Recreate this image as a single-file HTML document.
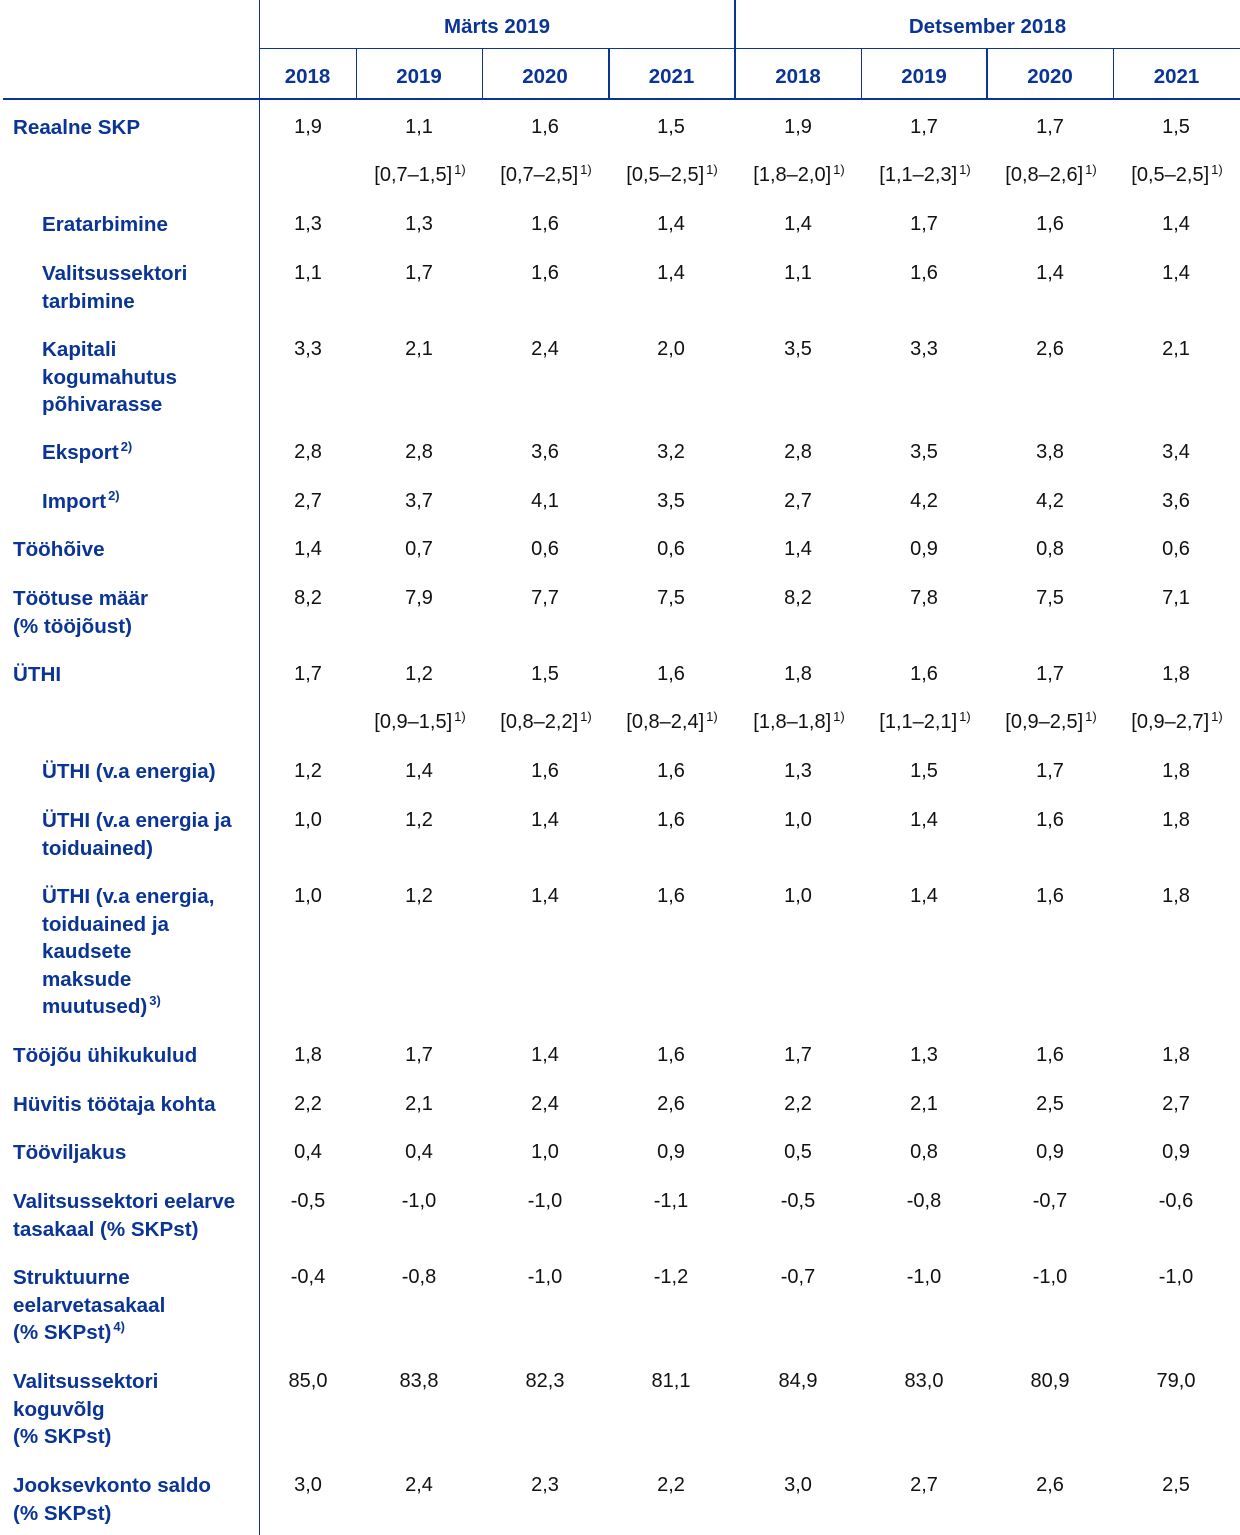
<!DOCTYPE html>
<html><head><meta charset="utf-8"><style>
body{margin:0;width:1240px;height:1535px;background:#fff;position:relative;overflow:hidden;font-family:"Liberation Sans",Arial,sans-serif;}
.l{position:absolute;background:#0a3596}
.r{position:absolute;left:0;width:1240px;height:28px;transform:translateY(2px)}
.r div{position:absolute;top:0;line-height:27.5px;font-size:20px;white-space:nowrap}
.r div.t{color:#0a3596;font-weight:bold;left:13px;font-size:20.6px}
.r div.t.i{left:42px}
.v{color:#111;text-align:center;width:126px}
.h{color:#0a3596;font-weight:bold;font-size:20.5px;position:absolute;text-align:center;line-height:28px;transform:translateY(2px)}
sup{font-size:13px;vertical-align:top;position:relative;top:-6px;left:2px;font-weight:normal}
.t sup{font-weight:bold}
.a{left:245px}.b{left:356px}.c{left:482px}.d{left:608px}.e{left:735px}.f{left:861px}.g{left:987px}.k{left:1113px}
</style></head><body>
<div class="l" style="left:259px;top:0;width:1px;height:1535px"></div>
<div class="l" style="left:734px;top:0;width:2px;height:100px"></div>
<div class="l" style="left:259px;top:48px;width:981px;height:1px"></div>
<div class="l" style="left:3px;top:98px;width:1237px;height:2px"></div>
<div class="l" style="left:356px;top:48px;width:1px;height:51px"></div>
<div class="l" style="left:482px;top:48px;width:1px;height:51px"></div>
<div class="l" style="left:608px;top:48px;width:2px;height:51px"></div>
<div class="l" style="left:861px;top:48px;width:1px;height:51px"></div>
<div class="l" style="left:986px;top:48px;width:2px;height:51px"></div>
<div class="l" style="left:1113px;top:48px;width:1px;height:51px"></div>
<div class="h" style="left:259px;width:476px;top:11px">Märts 2019</div>
<div class="h" style="left:735px;width:505px;top:11px">Detsember 2018</div>
<div class="h" style="left:259px;width:97px;top:61px">2018</div>
<div class="h" style="left:356px;width:126px;top:61px">2019</div>
<div class="h" style="left:482px;width:126px;top:61px">2020</div>
<div class="h" style="left:608px;width:127px;top:61px">2021</div>
<div class="h" style="left:735px;width:126px;top:61px">2018</div>
<div class="h" style="left:861px;width:126px;top:61px">2019</div>
<div class="h" style="left:987px;width:126px;top:61px">2020</div>
<div class="h" style="left:1113px;width:127px;top:61px">2021</div>

<div class="r" style="top:112px"><div class="t">Reaalne SKP</div><div class="v a">1,9</div><div class="v b">1,1</div><div class="v c">1,6</div><div class="v d">1,5</div><div class="v e">1,9</div><div class="v f">1,7</div><div class="v g">1,7</div><div class="v k">1,5</div></div>
<div class="r" style="top:160px"><div class="v b">[0,7–1,5]<sup>1)</sup></div><div class="v c">[0,7–2,5]<sup>1)</sup></div><div class="v d">[0,5–2,5]<sup>1)</sup></div><div class="v e">[1,8–2,0]<sup>1)</sup></div><div class="v f">[1,1–2,3]<sup>1)</sup></div><div class="v g">[0,8–2,6]<sup>1)</sup></div><div class="v k">[0,5–2,5]<sup>1)</sup></div></div>
<div class="r" style="top:209px"><div class="t i">Eratarbimine</div><div class="v a">1,3</div><div class="v b">1,3</div><div class="v c">1,6</div><div class="v d">1,4</div><div class="v e">1,4</div><div class="v f">1,7</div><div class="v g">1,6</div><div class="v k">1,4</div></div>
<div class="r" style="top:258px"><div class="t i">Valitsussektori<br>tarbimine</div><div class="v a">1,1</div><div class="v b">1,7</div><div class="v c">1,6</div><div class="v d">1,4</div><div class="v e">1,1</div><div class="v f">1,6</div><div class="v g">1,4</div><div class="v k">1,4</div></div>
<div class="r" style="top:334px"><div class="t i">Kapitali<br>kogumahutus<br>põhivarasse</div><div class="v a">3,3</div><div class="v b">2,1</div><div class="v c">2,4</div><div class="v d">2,0</div><div class="v e">3,5</div><div class="v f">3,3</div><div class="v g">2,6</div><div class="v k">2,1</div></div>
<div class="r" style="top:437px"><div class="t i">Eksport<sup>2)</sup></div><div class="v a">2,8</div><div class="v b">2,8</div><div class="v c">3,6</div><div class="v d">3,2</div><div class="v e">2,8</div><div class="v f">3,5</div><div class="v g">3,8</div><div class="v k">3,4</div></div>
<div class="r" style="top:486px"><div class="t i">Import<sup>2)</sup></div><div class="v a">2,7</div><div class="v b">3,7</div><div class="v c">4,1</div><div class="v d">3,5</div><div class="v e">2,7</div><div class="v f">4,2</div><div class="v g">4,2</div><div class="v k">3,6</div></div>
<div class="r" style="top:534px"><div class="t">Tööhõive</div><div class="v a">1,4</div><div class="v b">0,7</div><div class="v c">0,6</div><div class="v d">0,6</div><div class="v e">1,4</div><div class="v f">0,9</div><div class="v g">0,8</div><div class="v k">0,6</div></div>
<div class="r" style="top:583px"><div class="t">Töötuse määr<br>(% tööjõust)</div><div class="v a">8,2</div><div class="v b">7,9</div><div class="v c">7,7</div><div class="v d">7,5</div><div class="v e">8,2</div><div class="v f">7,8</div><div class="v g">7,5</div><div class="v k">7,1</div></div>
<div class="r" style="top:659px"><div class="t">ÜTHI</div><div class="v a">1,7</div><div class="v b">1,2</div><div class="v c">1,5</div><div class="v d">1,6</div><div class="v e">1,8</div><div class="v f">1,6</div><div class="v g">1,7</div><div class="v k">1,8</div></div>
<div class="r" style="top:707px"><div class="v b">[0,9–1,5]<sup>1)</sup></div><div class="v c">[0,8–2,2]<sup>1)</sup></div><div class="v d">[0,8–2,4]<sup>1)</sup></div><div class="v e">[1,8–1,8]<sup>1)</sup></div><div class="v f">[1,1–2,1]<sup>1)</sup></div><div class="v g">[0,9–2,5]<sup>1)</sup></div><div class="v k">[0,9–2,7]<sup>1)</sup></div></div>
<div class="r" style="top:756px"><div class="t i">ÜTHI (v.a energia)</div><div class="v a">1,2</div><div class="v b">1,4</div><div class="v c">1,6</div><div class="v d">1,6</div><div class="v e">1,3</div><div class="v f">1,5</div><div class="v g">1,7</div><div class="v k">1,8</div></div>
<div class="r" style="top:805px"><div class="t i">ÜTHI (v.a energia ja<br>toiduained)</div><div class="v a">1,0</div><div class="v b">1,2</div><div class="v c">1,4</div><div class="v d">1,6</div><div class="v e">1,0</div><div class="v f">1,4</div><div class="v g">1,6</div><div class="v k">1,8</div></div>
<div class="r" style="top:881px"><div class="t i">ÜTHI (v.a energia,<br>toiduained ja<br>kaudsete<br>maksude<br>muutused)<sup>3)</sup></div><div class="v a">1,0</div><div class="v b">1,2</div><div class="v c">1,4</div><div class="v d">1,6</div><div class="v e">1,0</div><div class="v f">1,4</div><div class="v g">1,6</div><div class="v k">1,8</div></div>
<div class="r" style="top:1040px"><div class="t">Tööjõu ühikukulud</div><div class="v a">1,8</div><div class="v b">1,7</div><div class="v c">1,4</div><div class="v d">1,6</div><div class="v e">1,7</div><div class="v f">1,3</div><div class="v g">1,6</div><div class="v k">1,8</div></div>
<div class="r" style="top:1089px"><div class="t">Hüvitis töötaja kohta</div><div class="v a">2,2</div><div class="v b">2,1</div><div class="v c">2,4</div><div class="v d">2,6</div><div class="v e">2,2</div><div class="v f">2,1</div><div class="v g">2,5</div><div class="v k">2,7</div></div>
<div class="r" style="top:1137px"><div class="t">Tööviljakus</div><div class="v a">0,4</div><div class="v b">0,4</div><div class="v c">1,0</div><div class="v d">0,9</div><div class="v e">0,5</div><div class="v f">0,8</div><div class="v g">0,9</div><div class="v k">0,9</div></div>
<div class="r" style="top:1186px"><div class="t">Valitsussektori eelarve<br>tasakaal (% SKPst)</div><div class="v a">-0,5</div><div class="v b">-1,0</div><div class="v c">-1,0</div><div class="v d">-1,1</div><div class="v e">-0,5</div><div class="v f">-0,8</div><div class="v g">-0,7</div><div class="v k">-0,6</div></div>
<div class="r" style="top:1262px"><div class="t">Struktuurne<br>eelarvetasakaal<br>(% SKPst)<sup>4)</sup></div><div class="v a">-0,4</div><div class="v b">-0,8</div><div class="v c">-1,0</div><div class="v d">-1,2</div><div class="v e">-0,7</div><div class="v f">-1,0</div><div class="v g">-1,0</div><div class="v k">-1,0</div></div>
<div class="r" style="top:1366px"><div class="t">Valitsussektori<br>koguvõlg<br>(% SKPst)</div><div class="v a">85,0</div><div class="v b">83,8</div><div class="v c">82,3</div><div class="v d">81,1</div><div class="v e">84,9</div><div class="v f">83,0</div><div class="v g">80,9</div><div class="v k">79,0</div></div>
<div class="r" style="top:1470px"><div class="t">Jooksevkonto saldo<br>(% SKPst)</div><div class="v a">3,0</div><div class="v b">2,4</div><div class="v c">2,3</div><div class="v d">2,2</div><div class="v e">3,0</div><div class="v f">2,7</div><div class="v g">2,6</div><div class="v k">2,5</div></div>
</body></html>
